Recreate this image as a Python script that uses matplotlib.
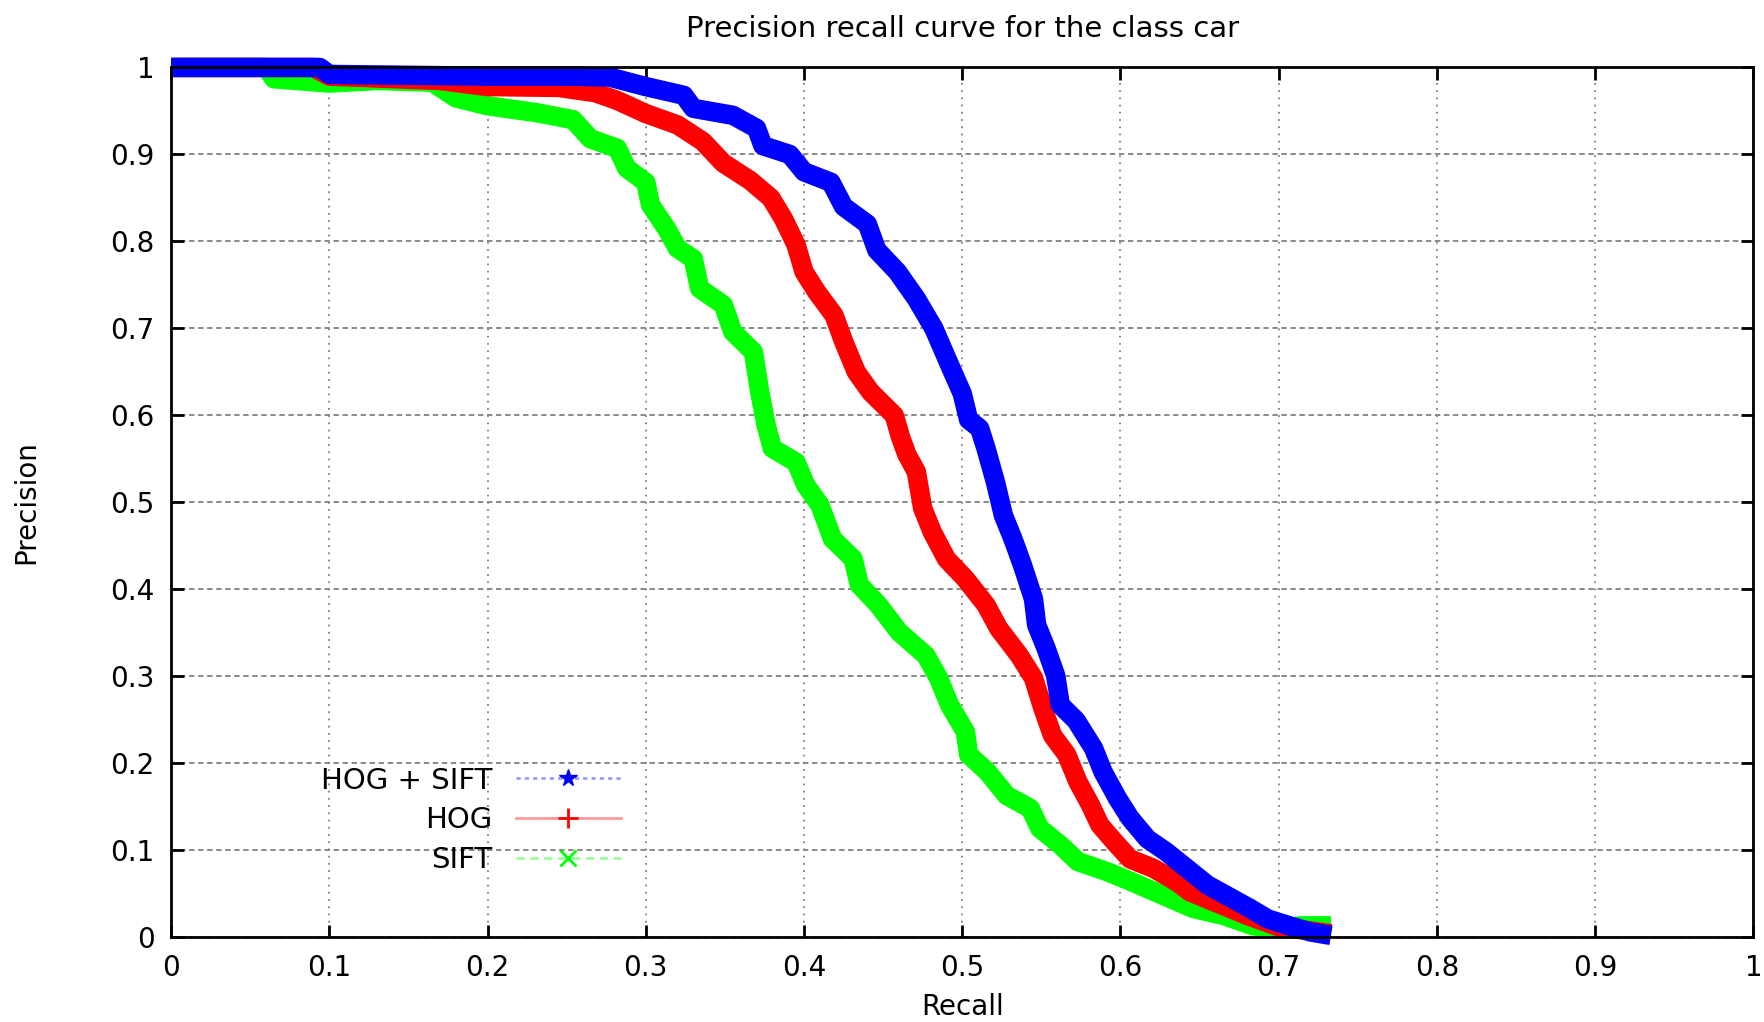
import matplotlib
matplotlib.use("Agg")
import matplotlib.pyplot as plt
from matplotlib.lines import Line2D
from matplotlib.ticker import FuncFormatter, MultipleLocator

# Values
hog_sift_recall = [0, 0.094, 0.1, 0.2, 0.25, 0.277, 0.30, 0.324, 0.33, 0.355, 0.37,
                   0.374, 0.391, 0.40, 0.417, 0.425, 0.44, 0.446, 0.459, 0.471, 0.482,
                   0.492, 0.50, 0.504, 0.511, 0.515, 0.521, 0.526, 0.532, 0.538, 0.545,
                   0.547, 0.553, 0.559, 0.562, 0.572, 0.583, 0.589, 0.598, 0.606, 0.617,
                   0.629, 0.642, 0.655, 0.667, 0.682, 0.693, 0.707, 0.72, 0.733]
hog_sift_precision = [1.0, 1.0, 0.992, 0.99, 0.99, 0.989, 0.978, 0.968, 0.953, 0.945, 0.93,
                      0.91, 0.90, 0.88, 0.868, 0.84, 0.82, 0.79, 0.765, 0.734, 0.70,
                      0.658, 0.625, 0.595, 0.585, 0.562, 0.523, 0.485, 0.458, 0.428, 0.389,
                      0.359, 0.332, 0.301, 0.267, 0.249, 0.217, 0.19, 0.16, 0.137, 0.113,
                      0.098, 0.079, 0.06, 0.048, 0.033, 0.021, 0.013, 0.006, 0.002]

hog_recall = [0, 0.09, 0.1, 0.17, 0.2, 0.245, 0.268, 0.282, 0.30, 0.32, 0.336, 0.349,
              0.366, 0.379, 0.387, 0.395, 0.40, 0.408, 0.419, 0.425, 0.433, 0.442,
              0.457, 0.461, 0.465, 0.471, 0.475, 0.481, 0.49, 0.502, 0.515, 0.523,
              0.536, 0.545, 0.551, 0.557, 0.566, 0.573, 0.581, 0.587, 0.596, 0.606,
              0.621, 0.636, 0.644, 0.66, 0.68, 0.70, 0.733]
hog_precision = [1.0, 1.0, 0.99, 0.985, 0.978, 0.977, 0.971, 0.962, 0.947, 0.934, 0.915, 0.89,
                 0.87, 0.85, 0.826, 0.796, 0.765, 0.742, 0.715, 0.685, 0.65, 0.627,
                 0.60, 0.575, 0.555, 0.535, 0.493, 0.466, 0.435, 0.412, 0.382, 0.355,
                 0.324, 0.298, 0.263, 0.232, 0.21, 0.179, 0.152, 0.129, 0.11, 0.09,
                 0.079, 0.063, 0.052, 0.04, 0.025, 0.012, 0.004]

sift_recall = [0, 0.06, 0.065, 0.1, 0.13, 0.165, 0.18, 0.2, 0.231, 0.254, 0.265, 0.282,
               0.288, 0.30, 0.303, 0.313, 0.32, 0.33, 0.334, 0.349, 0.355, 0.368, 0.372,
               0.376, 0.38, 0.395, 0.401, 0.41, 0.418, 0.431, 0.435, 0.447, 0.46, 0.477,
               0.485, 0.492, 0.502, 0.504, 0.516, 0.528, 0.543, 0.549, 0.562, 0.573,
               0.592, 0.608, 0.627, 0.646, 0.665, 0.684, 0.701, 0.714, 0.733]
sift_precision = [1.0, 1.0, 0.987, 0.982, 0.985, 0.983, 0.965, 0.956, 0.948, 0.94, 0.918, 0.907,
                  0.884, 0.868, 0.842, 0.815, 0.792, 0.78, 0.746, 0.727, 0.696, 0.673, 0.627,
                  0.589, 0.562, 0.546, 0.52, 0.497, 0.458, 0.435, 0.405, 0.382, 0.351, 0.324,
                  0.298, 0.267, 0.236, 0.21, 0.19, 0.163, 0.148, 0.125, 0.106, 0.087,
                  0.075, 0.063, 0.048, 0.033, 0.025, 0.013, 0.01, 0.013, 0.013]

labels = ["HOG + SIFT", "HOG", "SIFT"]
colors = ["#0000ff", "#ff0000", "#00ff00"]

plt.rcParams['font.family'] = ['DejaVu Sans']
fs = 20

fig = plt.figure(figsize=(17.64, 10.22), dpi=100)
ax = fig.add_axes([0.097, 0.083, 0.897, 0.851])

# thick bands, SIFT underneath, HOG+SIFT on top
band = dict(linewidth=14, solid_joinstyle='round', solid_capstyle='butt', clip_on=False)
ax.plot(sift_recall, sift_precision, color=colors[2], zorder=3, **band)
ax.plot(hog_recall, hog_precision, color=colors[1], zorder=4, **band)
ax.plot(hog_sift_recall, hog_sift_precision, color=colors[0], zorder=5, **band)

ax.set_xlim(0, 1)
ax.set_ylim(0, 1)
ax.xaxis.set_major_locator(MultipleLocator(0.1))
ax.yaxis.set_major_locator(MultipleLocator(0.1))
fmt = FuncFormatter(lambda v, pos: "%g" % round(v, 1))
ax.xaxis.set_major_formatter(fmt)
ax.yaxis.set_major_formatter(fmt)

ax.tick_params(direction='in', length=9, width=2, labelsize=fs,
               top=True, right=True, pad=12)
for sp in ax.spines.values():
    sp.set_linewidth(2)
    sp.set_zorder(6)

ax.xaxis.grid(True, color='#808080', linestyle=(0, (1, 3)), linewidth=1.3)
ax.yaxis.grid(True, color='#808080', linestyle=(0, (3, 2)), linewidth=1.3)
ax.set_axisbelow(True)

ax.set_title("Precision recall curve for the class car", fontsize=fs + 1, pad=22)
ax.set_xlabel("Recall", fontsize=fs, labelpad=8)
ax.set_ylabel("Precision", fontsize=fs)
ax.yaxis.set_label_coords(-0.083, 0.5)

handles = [
    Line2D([], [], color='#9a9aff', linestyle=(0, (1.5, 1.5)), linewidth=2,
           marker='*', markersize=13, markerfacecolor='#0000ff', markeredgecolor='#0000ff'),
    Line2D([], [], color='#ff9a9a', linestyle='-', linewidth=2,
           marker='+', markersize=15, markeredgewidth=2, markeredgecolor='#ff0000'),
    Line2D([], [], color='#9aff9a', linestyle=(0, (3, 2)), linewidth=2,
           marker='x', markersize=12, markeredgewidth=2, markeredgecolor='#00ff00'),
]
ax.legend(handles, labels, loc='center right', bbox_to_anchor=(0.2935, 0.1345),
          markerfirst=False, frameon=False, fontsize=fs + 1, handlelength=3.6,
          handletextpad=0.8, labelspacing=0.4, borderpad=0)

fig.savefig("out.png", dpi=100)
